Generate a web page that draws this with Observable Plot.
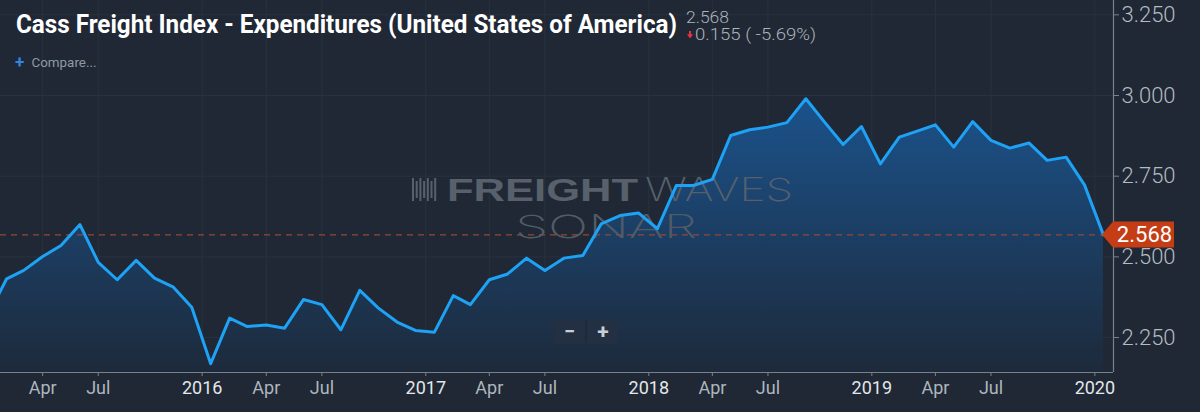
<!DOCTYPE html>
<html><head><meta charset="utf-8">
<script src="https://cdn.jsdelivr.net/npm/d3@7"></script>
<script src="https://cdn.jsdelivr.net/npm/@observablehq/plot@0.6"></script>
<style>
html,body{margin:0;padding:0;background:#1f2834;}
#wrap{position:relative;width:1200px;height:412px;overflow:hidden;background:#1f2834;}
</style></head><body>
<div id="wrap"></div>
<script>
// ---- data ----
const months = ["2015-01","2015-02","2015-03","2015-04","2015-05","2015-06","2015-07","2015-08","2015-09","2015-10","2015-11","2015-12",
"2016-01","2016-02","2016-03","2016-04","2016-05","2016-06","2016-07","2016-08","2016-09","2016-10","2016-11","2016-12",
"2017-01","2017-02","2017-03","2017-04","2017-05","2017-06","2017-07","2017-08","2017-09","2017-10","2017-11","2017-12",
"2018-01","2018-02","2018-03","2018-04","2018-05","2018-06","2018-07","2018-08","2018-09","2018-10","2018-11","2018-12",
"2019-01","2019-02","2019-03","2019-04","2019-05","2019-06","2019-07","2019-08","2019-09","2019-10","2019-11","2019-12",
"2020-01"];
const values = [2.317,2.432,2.458,2.501,2.535,2.600,2.483,2.429,2.489,2.434,2.406,2.344,
2.169,2.310,2.284,2.289,2.279,2.368,2.352,2.274,2.396,2.342,2.298,2.272,
2.266,2.380,2.352,2.429,2.447,2.496,2.458,2.496,2.504,2.602,2.628,2.636,
2.587,2.721,2.721,2.740,2.876,2.894,2.902,2.916,2.990,2.919,2.848,2.904,
2.788,2.871,2.889,2.909,2.840,2.919,2.861,2.837,2.853,2.799,2.809,2.723,
2.568];
const tickDates = ["2015-04-15","2015-07-15","2016-01-01","2016-04-15","2016-07-15","2017-01-01","2017-04-15","2017-07-15",
"2018-01-01","2018-04-15","2018-07-15","2019-01-01","2019-04-15","2019-07-15","2020-01-01"];
const tickLabels = ["Apr","Jul","2016","Apr","Jul","2017","Apr","Jul","2018","Apr","Jul","2019","Apr","Jul","2020"];
const yTicks = [2.25, 2.5, 2.75, 3.0, 3.25];
const xDomain = [new Date("2015-02-05T00:00Z"), new Date("2020-01-31T12:00Z")];
const yDomain = [2.1416, 3.2944];
const titleText = "Cass Freight Index - Expenditures (United States of America)";
const lastText = "2.568";
const changeText = "0.155 ( -5.69%)";

// ---- build ----
const data = months.map((m, i) => ({date: new Date(m + "-15T00:00Z"), value: values[i]}));
const ticks = tickDates.map((d, i) => ({date: new Date(d + "T00:00Z"), label: tickLabels[i], year: /^\d{4}$/.test(tickLabels[i])}));
const tickDateObjs = ticks.map(t => t.date);
const last = data[data.length - 1];
const axisCol = "#78828d", gridCol = "#29323f";

const plot = Plot.plot({
  width: 1200, height: 412,
  marginLeft: 0, marginRight: 87, marginTop: 0, marginBottom: 40,
  style: {background: "#1f2834", fontFamily: "Roboto, 'Noto Sans', sans-serif", color: "#b4bbc2", overflow: "visible"},
  x: {type: "utc", domain: xDomain, axis: null},
  y: {domain: yDomain, axis: null},
  marks: [
    Plot.gridY(yTicks, {stroke: gridCol, strokeOpacity: 1}),
    Plot.gridX(tickDateObjs, {stroke: gridCol, strokeOpacity: 1}),
    Plot.areaY(data, {x: "date", y1: yDomain[0], y2: "value", fill: "url(#areaGrad)", clip: true}),
    Plot.ruleY([last.value], {stroke: "#94473a", strokeDasharray: "6,5", strokeWidth: 1.3}),
    Plot.lineY(data, {x: "date", y: "value", stroke: "#1ea2f5", strokeWidth: 3, strokeLinejoin: "round", clip: true}),
    Plot.ruleY([yDomain[0]], {stroke: axisCol, strokeWidth: 1.2}),
    Plot.ruleX([xDomain[1]], {stroke: axisCol, strokeWidth: 1.2}),
    Plot.axisX(tickDateObjs, {tickSize: 4, tickFormat: () => "", stroke: axisCol, label: null}),
    Plot.text(ticks.filter(t => t.year), {x: "date", frameAnchor: "bottom", dy: 21, text: "label", fill: "#e3e7ea", fontSize: 18}),
    Plot.text(ticks.filter(t => !t.year), {x: "date", frameAnchor: "bottom", dy: 21, text: "label", fill: "#aeb6be", fontSize: 18}),
    Plot.axisY(yTicks, {anchor: "right", tickSize: 5, tickPadding: 3, tickFormat: d3.format(".3f"),
      fontSize: 22, fontWeight: 300, fill: "#b4bbc2", stroke: axisCol, label: null})
  ]
});
document.getElementById("wrap").appendChild(plot);

const svg = d3.select(plot);
// gradient
const grad = svg.append("defs").append("linearGradient")
  .attr("id", "areaGrad").attr("x1", 0).attr("y1", 0).attr("x2", 0).attr("y2", 1);
grad.append("stop").attr("offset", "0%").attr("stop-color", "#1b528b");
grad.append("stop").attr("offset", "100%").attr("stop-color", "#1d2a3b");

// watermark (under the line)
const wm = svg.insert("g", 'g[aria-label="line"]').attr("pointer-events", "none").attr("text-anchor", "start");
for (let i = 0; i < 7; i++) {
  wm.append("rect").attr("x", 412 + i * 3.7).attr("y", 178 + (i % 2) * 3).attr("width", 2)
    .attr("height", 23 - (i % 2) * 6).attr("fill", "#58616b");
}
wm.append("text").attr("x", 447).attr("y", 201.3).attr("font-family", "'Liberation Sans', Arial, sans-serif")
  .attr("font-weight", 700).attr("font-size", 32).attr("textLength", 191).attr("lengthAdjust", "spacingAndGlyphs")
  .attr("fill", "#58616b").text("FREIGHT");
wm.append("text").attr("x", 645).attr("y", 201.3).attr("font-family", "Inter, Lato, sans-serif")
  .attr("font-weight", 200).attr("font-size", 32).attr("textLength", 148).attr("lengthAdjust", "spacingAndGlyphs")
  .attr("fill", "#56606c").text("WAVES");
wm.append("text").attr("x", 515).attr("y", 238).attr("font-family", "Inter, Lato, sans-serif")
  .attr("font-weight", 200).attr("font-size", 32).attr("textLength", 182).attr("lengthAdjust", "spacingAndGlyphs")
  .attr("fill", "#515b67").text("SONAR");

// last-value callout
const xs = plot.scale("x"), ys = plot.scale("y");
const tipX = xs.apply(last.date) - 1, cy = ys.apply(last.value), boxL = xs.apply(xDomain[1]), boxR = boxL + 61;
svg.append("polygon")
  .attr("points", [[tipX, cy], [boxL, cy - 13], [boxR, cy - 13], [boxR, cy + 13], [boxL, cy + 13]].map(p => p.join(",")).join(" "))
  .attr("fill", "#c53d14");
svg.append("text").attr("x", (boxL + boxR) / 2 + 1).attr("y", cy + 8).attr("text-anchor", "middle")
  .attr("font-family", "Roboto, sans-serif").attr("font-size", 22).attr("font-weight", 400)
  .attr("fill", "#ffffff").text(lastText);

// header
const hdr = svg.append("g").attr("font-family", "Roboto, 'Noto Sans', sans-serif").attr("text-anchor", "start");
hdr.append("text").attr("x", 16).attr("y", 33.3).attr("font-size", 26).attr("font-weight", 700)
  .attr("textLength", 661).attr("lengthAdjust", "spacingAndGlyphs").attr("fill", "#ffffff").text(titleText);
hdr.append("text").attr("x", 686).attr("y", 23).attr("font-size", 16).attr("font-weight", 300)
  .attr("textLength", 43).attr("lengthAdjust", "spacingAndGlyphs").attr("fill", "#aeb4bb").text(lastText);
hdr.append("polygon").attr("points", "689,31 691,31 691,34.2 693,34.2 690,38.5 687,34.2 689,34.2").attr("fill", "#e8333f");
hdr.append("text").attr("x", 695).attr("y", 40).attr("font-size", 16).attr("font-weight", 300)
  .attr("textLength", 121).attr("lengthAdjust", "spacingAndGlyphs").attr("fill", "#aeb4bb").text(changeText);
hdr.append("text").attr("x", 15).attr("y", 67.5).attr("font-size", 17).attr("font-weight", 700)
  .attr("fill", "#2e86de").text("+");
hdr.append("text").attr("x", 31.5).attr("y", 67).attr("font-size", 13).attr("font-weight", 400)
  .attr("textLength", 65).attr("lengthAdjust", "spacingAndGlyphs").attr("fill", "#8f99a4").text("Compare...");

// zoom control
const zc = svg.append("g");
zc.append("rect").attr("x", 553).attr("y", 319).attr("width", 65).attr("height", 25).attr("rx", 2).attr("fill", "#253143").attr("fill-opacity", 0.9);
zc.append("line").attr("x1", 586).attr("x2", 586).attr("y1", 320).attr("y2", 343).attr("stroke", "#1e2938").attr("stroke-width", 1.5);
zc.append("text").attr("x", 569.5).attr("y", 338).attr("text-anchor", "middle").attr("font-family", "Roboto, sans-serif")
  .attr("font-size", 20).attr("font-weight", 700).attr("fill", "#c9ced4").text("−");
zc.append("text").attr("x", 603).attr("y", 338.5).attr("text-anchor", "middle").attr("font-family", "Roboto, sans-serif")
  .attr("font-size", 21).attr("font-weight", 700).attr("fill", "#c9ced4").text("+");
</script>
</body></html>
